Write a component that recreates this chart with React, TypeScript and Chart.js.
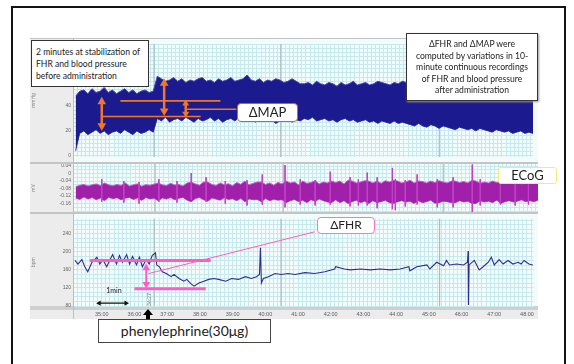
import React, { useEffect, useRef } from "react";
import { Chart, registerables } from "chart.js";

Chart.register(...registerables);

// ---------- time axis (minutes) ----------
const timeMin = 34.15;
const timeMax = 48.2;
const sampleStart = 34.2;
const sampleStep = 0.125;
const gridStep = 0.125;
const eventTimes = [36.6, 40.48, 45.33];

// ---------- MAP (blood pressure) envelope ----------
const mapUpper = [
  48, 52, 53, 50, 54, 51, 52, 55, 51, 53, 50, 52, 54, 51, 53, 50, 52, 53, 51, 52,
  64, 62, 60, 61, 63, 60, 62, 59, 61, 60, 62, 63, 60, 61, 59, 62, 60, 61, 63, 60,
  61, 62, 65, 61, 60, 62, 59, 61, 60, 62, 61, 59, 60, 62, 60, 58,
  58, 59, 57, 60, 58, 57, 59, 58, 56, 59, 57, 58, 60, 57, 58, 59, 57, 58, 60, 59,
  58, 57, 59, 58, 60,
  59, 58, 60, 58, 59, 57, 59, 58, 60, 58, 57, 59, 58, 60, 59, 57, 58, 59, 58, 60,
  58, 57, 59, 58, 59, 57, 58, 59, 58, 57, 58, 57,
];
const mapLower = [
  4, 18, 20, 17, 19, 21, 18, 20, 17, 19, 20, 18, 21, 19, 17, 20, 18, 19, 21, 19,
  30, 28, 31, 27, 29, 30, 28, 31, 29, 27, 30, 28, 29, 31, 28, 30, 27, 29, 30, 28,
  31, 29, 28, 30, 27, 29, 30, 28, 29, 26, 28, 30, 29, 27, 29, 28,
  30, 29, 31, 28, 29, 30, 28, 29, 27, 29, 30, 28, 29, 27, 28, 29, 27, 28, 26, 28,
  27, 26, 28, 26, 27,
  26, 25, 24, 26, 24, 23, 25, 24, 22, 24, 23, 22, 21, 23, 22, 21, 22, 20, 22, 21,
  20, 19, 21, 20, 19, 20, 18, 19, 20, 18, 19, 18,
];

// ---------- ECoG envelope ----------
const ecogUpper = [
  -0.07, -0.062, -0.058, -0.066, -0.06, -0.055, -0.064, -0.05, -0.06, -0.065,
  -0.058, -0.063, -0.05, -0.066, -0.06, -0.055, -0.067, -0.059, -0.062, -0.056,
  -0.05, -0.06, -0.064, -0.052, -0.061, -0.058, -0.066, -0.05, -0.045, -0.055,
  -0.062, -0.045, -0.045, -0.058, -0.063, -0.05, -0.06, -0.054, -0.065, -0.048,
  -0.057, -0.04, -0.06, -0.052, -0.045, -0.045, -0.058, -0.05, -0.062, -0.047,
  -0.055, -0.04, -0.05, -0.045, -0.06, -0.04, -0.052, -0.048, -0.038, -0.055,
  -0.045, -0.05, -0.04, -0.048, -0.04, -0.055, -0.035, -0.04, -0.05, -0.045,
  -0.038, -0.04, -0.05, -0.04, -0.052, -0.038, -0.045, -0.035, -0.04, -0.05,
  -0.045, -0.035, -0.05, -0.04, -0.042, -0.05, -0.04, -0.048, -0.038, -0.045,
  -0.05, -0.04, -0.04, -0.048, -0.042, -0.05, -0.035, -0.04, -0.052, -0.045,
  -0.05, -0.04, -0.048, -0.038, -0.052, -0.045, -0.05, -0.04, -0.055, -0.046,
  -0.05, -0.045, -0.052,
];
const ecogLower = [
  -0.13, -0.138, -0.125, -0.135, -0.128, -0.14, -0.13, -0.145, -0.126, -0.134,
  -0.129, -0.14, -0.132, -0.127, -0.138, -0.13, -0.143, -0.128, -0.135, -0.131,
  -0.145, -0.13, -0.136, -0.128, -0.14, -0.132, -0.127, -0.142, -0.15, -0.133,
  -0.128, -0.14, -0.148, -0.13, -0.136, -0.142, -0.129, -0.138, -0.134, -0.145,
  -0.132, -0.15, -0.135, -0.14, -0.138, -0.15, -0.133, -0.145, -0.137, -0.142,
  -0.14, -0.155, -0.145, -0.138, -0.15, -0.142, -0.155, -0.14, -0.148, -0.136,
  -0.145, -0.152, -0.155, -0.14, -0.155, -0.145, -0.16, -0.15, -0.142, -0.155,
  -0.148, -0.16, -0.145, -0.155, -0.15, -0.142, -0.155, -0.16, -0.15, -0.145,
  -0.152, -0.148, -0.16, -0.145, -0.155, -0.15, -0.142, -0.158, -0.155, -0.148,
  -0.15, -0.155, -0.155, -0.145, -0.152, -0.148, -0.16, -0.16, -0.145, -0.152,
  -0.148, -0.155, -0.142, -0.16, -0.15, -0.145, -0.152, -0.148, -0.14, -0.15,
  -0.145, -0.15, -0.142,
];
// ECoG transients (thin spikes)
const ecogSpikeTimes = [
  34.99, 35.66, 36.12, 36.72, 37.27, 37.7, 38.15, 38.73, 39.39, 39.85,
  40.54, 41.0, 41.45, 41.91, 42.51, 42.76, 43.03, 43.33, 43.79, 43.88,
  44.18, 44.54, 45.15, 45.63, 46.21, 46.45, 47.06, 47.51, 47.91,
];
const ecogSpikeTops = [
  -0.03, -0.04, -0.045, -0.03, -0.04, 0.003, -0.02, -0.04, -0.035, -0.005,
  0.045, -0.03, -0.035, 0.01, -0.02, -0.03, 0.005, -0.02, 0.03, -0.03,
  -0.035, -0.005, -0.03, -0.02, 0.048, -0.03, -0.025, -0.035, -0.03,
];
const ecogSpikeBottoms = [
  -0.15, -0.155, -0.16, -0.15, -0.155, -0.14, -0.15, -0.16, -0.17, -0.165,
  -0.18, -0.165, -0.17, -0.165, -0.175, -0.17, -0.17, -0.185, -0.19, -0.195,
  -0.175, -0.165, -0.18, -0.18, -0.205, -0.17, -0.165, -0.17, -0.165,
];

// ---------- FHR trace ----------
const fhrTimes = [
  34.18, 34.27, 34.39, 34.48, 34.57, 34.7, 34.85, 34.94, 35.03, 35.15,
  35.24, 35.33, 35.45, 35.54, 35.63, 35.76, 35.85, 35.94, 36.06, 36.15,
  36.24, 36.36, 36.45, 36.54, 36.64, 36.68, 36.76, 36.85, 36.97, 37.12,
  37.21, 37.36, 37.51, 37.6, 37.73, 37.82, 37.97, 38.12, 38.27, 38.42,
  38.57, 38.79, 38.97, 39.18, 39.39, 39.57, 39.73, 39.82, 39.85, 39.88,
  39.94, 40.09, 40.3, 40.48, 40.7, 40.91, 41.21, 41.51, 41.82, 42.12,
  42.15, 42.42, 42.6, 42.91, 43.21, 43.51, 43.82, 44.12, 44.39, 44.42,
  44.63, 44.94, 45.03, 45.24, 45.45, 45.54, 45.63, 45.85, 46.06, 46.18,
  46.2, 46.21, 46.23, 46.39, 46.54, 46.66, 46.82, 46.91, 47.0, 47.15,
  47.27, 47.42, 47.57, 47.73, 47.82, 47.91, 48.06, 48.18,
];
const fhrValues = [
  181, 173, 183, 167, 156, 177, 188, 173, 183, 167,
  181, 194, 173, 192, 177, 194, 173, 190, 171, 188,
  167, 183, 173, 192, 198, 171, 167, 156, 152, 145,
  150, 141, 135, 139, 129, 124, 131, 135, 139, 141,
  139, 135, 141, 139, 145, 141, 145, 150, 209, 131,
  141, 145, 152, 150, 152, 150, 154, 152, 156, 162,
  167, 162, 160, 162, 160, 162, 160, 162, 167, 158,
  167, 171, 162, 177, 169, 181, 171, 173, 171, 177,
  202, 82, 171, 181, 160, 167, 177, 188, 171, 183,
  173, 181, 173, 177, 173, 181, 173, 171,
];

// ---------- axis tick labels ----------
const mapTickValues = [0, 20, 40];
const ecogTickValues = [0.04, 0, -0.04, -0.08, -0.12, -0.16];
const fhrTickValues = [80, 120, 160, 200, 240];

// ---------- annotation marks (data coordinates) ----------
const mapArrowTimes = [35.0, 36.91, 37.57];
const mapArrowTops = [43.4, 58.3, 42.0];
const mapArrowBottoms = [24.2, 36.0, 33.8];
const mapLevelStarts = [35.03, 35.57, 37.57];
const mapLevelEnds = [38.03, 38.63, 39.12];
const mapLevelValues = [31.6, 44.2, 37.5];

const fhrLevelStarts = [34.63, 36.0];
const fhrLevelEnds = [38.33, 38.18];
const fhrLevelValues = [181, 118];
const fhrArrowTime = 36.36;
const fhrArrowTop = 164;
const fhrArrowBottom = 128.5;
const fhrPointerTimes = [36.42, 41.51];
const fhrPointerValues = [151.7, 244.5];
const oneMinTimes = [34.92, 35.74];
const oneMinValue = 86.3;

const GRID = "#c6e9ee";
const ORANGE = "#f0762a";
const PINK = "#ff5cc6";
const X_TICK_FONT = { size: 5.5, family: "Liberation Sans" };
const Y_TICK_FONT = { size: 5, family: "Liberation Sans" };

const pts = (ts: number[], vs: number[]) => ts.map((t, i) => ({ x: t, y: vs[i] }));
const sampled = (vs: number[]) => vs.map((v, i) => ({ x: sampleStart + i * sampleStep, y: v }));
const segments = (ts: number[], tops: number[], bottoms: number[]) =>
  ts.flatMap((t, i) => [
    { x: t, y: tops[i] },
    { x: t, y: bottoms[i] },
    { x: t, y: null },
  ]);

function line(data: any[], color: string, width: number, extra: any = {}) {
  return {
    type: "line",
    data,
    xAxisID: "x",
    yAxisID: "y",
    borderColor: color,
    backgroundColor: color,
    borderWidth: width,
    pointRadius: 0,
    fill: false,
    tension: 0,
    spanGaps: false,
    order: 0,
    ...extra,
  };
}

function arrow(t: number, top: number, bottom: number, color: string, width: number, r: number) {
  return line([{ x: t, y: top }, { x: t, y: bottom }], color, width, {
    pointRadius: r,
    pointStyle: "triangle",
    pointRotation: [0, 180],
    pointBorderWidth: 0,
    pointBackgroundColor: color,
  });
}

function eventLines(yMin: number, yMax: number) {
  return eventTimes.map((t) => line([{ x: t, y: yMin }, { x: t, y: yMax }], "#a3b1b5", 1, { order: 20 }));
}

const near = (list: number[], v: number) => list.some((t) => Math.abs(t - v) < 1e-6);

function makeConfig(datasets: any[], y: { min: number; max: number; step: number; ticks: number[]; fmt: (v: number) => string; title: string }, showX: boolean) {
  return {
    type: "line",
    data: { datasets },
    options: {
      animation: false,
      responsive: false,
      events: [],
      layout: { padding: 0 },
      plugins: { legend: { display: false }, tooltip: { enabled: false } },
      scales: {
        x: {
          type: "linear",
          position: "bottom",
          min: timeMin,
          max: timeMax,
          display: showX,
          grid: { display: false, drawTicks: false },
          border: { display: false },
          ticks: {
            stepSize: 1,
            includeBounds: false,
            autoSkip: false,
            maxRotation: 0,
            padding: 5,
            color: "#5a5a5a",
            font: X_TICK_FONT,
            callback: (v: number) => (Math.abs(v - Math.round(v)) < 1e-6 ? `${Math.round(v)}:00` : ""),
          },
          afterFit: (s: any) => {
            s.height = showX ? 14 : 0;
            s.paddingLeft = 0;
            s.paddingRight = 0;
          },
        },
        xg: {
          type: "linear",
          position: "bottom",
          min: timeMin,
          max: timeMax,
          display: true,
          ticks: { display: false, stepSize: gridStep, includeBounds: false },
          grid: { color: GRID, drawTicks: false, lineWidth: 1 },
          border: { display: false },
          afterFit: (s: any) => {
            s.height = 0;
            s.paddingLeft = 0;
            s.paddingRight = 0;
          },
        },
        y: {
          type: "linear",
          position: "left",
          min: y.min,
          max: y.max,
          grid: { color: GRID, drawTicks: false, lineWidth: 1 },
          border: { display: false },
          title: { display: true, text: y.title, color: "#8a8a8a", font: { size: 5, family: "Liberation Sans" }, padding: 1 },
          ticks: {
            stepSize: y.step,
            includeBounds: false,
            autoSkip: false,
            padding: 3,
            color: "#666",
            font: Y_TICK_FONT,
            callback: (v: number) => (near(y.ticks, v) ? y.fmt(v) : ""),
          },
          afterFit: (s: any) => {
            s.width = 44;
            s.paddingTop = 0;
            s.paddingBottom = 0;
          },
        },
      },
    },
  };
}

function mapConfig() {
  const ds: any[] = [];
  mapArrowTimes.forEach((t, i) => ds.push(arrow(t, mapArrowTops[i], mapArrowBottoms[i], ORANGE, 2.5, i === 2 ? 4 : 5)));
  mapLevelValues.forEach((v, i) => ds.push(line(pts([mapLevelStarts[i], mapLevelEnds[i]], [v, v]), ORANGE, 1.6)));
  ds.push(...eventLines(-1, 90));
  ds.push(line(sampled(mapUpper), "#4444b8", 1, { fill: "+1", backgroundColor: "#1b1b8f", order: 10 }));
  ds.push(line(sampled(mapLower), "#4444b8", 1, { order: 10 }));
  return makeConfig(ds, { min: -1, max: 90, step: 10 / 3, ticks: mapTickValues, fmt: (v) => `${Math.round(v)}`, title: "mmHg" }, false);
}

function ecogConfig() {
  const ds: any[] = [];
  ds.push(line(segments(ecogSpikeTimes, ecogSpikeTops, ecogSpikeBottoms), "#c140c8", 1, { order: 5 }));
  ds.push(...eventLines(-0.205, 0.051));
  ds.push(line(sampled(ecogUpper), "#d05ad4", 1, { fill: "+1", backgroundColor: "#a020aa", order: 10 }));
  ds.push(line(sampled(ecogLower), "#d05ad4", 1, { order: 10 }));
  return makeConfig(
    ds,
    { min: -0.205, max: 0.051, step: 0.02, ticks: ecogTickValues, fmt: (v) => (Math.abs(v) < 1e-9 ? "0" : v.toFixed(2)), title: "mV" },
    false
  );
}

function fhrConfig() {
  const ds: any[] = [];
  fhrLevelValues.forEach((v, i) => ds.push(line(pts([fhrLevelStarts[i], fhrLevelEnds[i]], [v, v]), PINK, 3)));
  ds.push(arrow(fhrArrowTime, fhrArrowTop, fhrArrowBottom, PINK, 2, 4.5));
  ds.push(line(pts(fhrPointerTimes, fhrPointerValues), PINK, 1));
  ds.push(
    line(pts(oneMinTimes, [oneMinValue, oneMinValue]), "#111", 1.2, {
      pointRadius: 3,
      pointStyle: "triangle",
      pointRotation: [270, 90],
      pointBorderWidth: 0,
      pointBackgroundColor: "#111",
    })
  );
  ds.push(...eventLines(80, 274));
  ds.push(line(pts(fhrTimes, fhrValues), "#2e2e8e", 1.1, { order: 10 }));
  return makeConfig(ds, { min: 80, max: 274, step: 10, ticks: fhrTickValues, fmt: (v) => `${Math.round(v)}`, title: "bpm" }, true);
}

function ChartCanvas({ make, left, top, width, height }: { make: () => any; left: number; top: number; width: number; height: number }) {
  const ref = useRef<HTMLCanvasElement>(null);
  useEffect(() => {
    const chart = new Chart(ref.current as HTMLCanvasElement, make());
    return () => chart.destroy();
  }, []);
  return <canvas ref={ref} width={width} height={height} style={{ position: "absolute", left, top, width, height }} />;
}

const abs = (s: React.CSSProperties): React.CSSProperties => ({ position: "absolute", boxSizing: "border-box", ...s });
const TEXT_FONT = 'Lato, "Noto Sans", "DejaVu Sans", sans-serif';

export default function App() {
  return (
    <div style={{ position: "fixed", left: 0, top: 0, width: 574, height: 364, background: "#fff", overflow: "hidden", fontFamily: TEXT_FONT, color: "#222" }}>
      {/* outer frame */}
      <div style={abs({ left: 11, top: 6, width: 555, height: 420, border: "2px solid #141414" })} />

      {/* recorder chrome */}
      <div style={abs({ left: 30, top: 38, width: 508, height: 281, background: "#ececec" })} />
      <div style={abs({ left: 74, top: 39, width: 464, height: 123, background: "#f2fcfd" })} />
      <div style={abs({ left: 74, top: 164, width: 464, height: 48, background: "#f2fcfd" })} />
      <div style={abs({ left: 74, top: 214, width: 464, height: 92, background: "#f2fcfd" })} />
      <div style={abs({ left: 30, top: 38, width: 508, height: 1, background: "#c4c4c4" })} />
      <div style={abs({ left: 30, top: 162, width: 508, height: 2, background: "#c4c4c4" })} />
      <div style={abs({ left: 30, top: 212, width: 508, height: 2, background: "#c4c4c4" })} />
      <div style={abs({ left: 30, top: 306, width: 508, height: 4, background: "#cfcfcf" })} />
      <div style={abs({ left: 73, top: 38, width: 1, height: 281, background: "#bdbdbd" })} />

      <ChartCanvas make={mapConfig} left={30} top={39} width={508} height={123} />
      <ChartCanvas make={ecogConfig} left={30} top={164} width={508} height={48} />
      <ChartCanvas make={fhrConfig} left={30} top={214} width={508} height={106} />

      {/* text boxes */}
      <div style={abs({ left: 31, top: 40, width: 118, height: 47, border: "1px solid #333", background: "#fff", padding: "5px 4px", fontSize: 8.6, lineHeight: "12px", whiteSpace: "nowrap" })}>
        2 minutes at stabilization of
        <br />
        FHR and blood pressure
        <br />
        before administration
      </div>
      <div style={abs({ left: 406, top: 33, width: 132, height: 68, border: "1px solid #333", background: "#fff", boxShadow: "1px 1px 2px #999", padding: "5px 1px", fontSize: 8.6, lineHeight: "11.6px", textAlign: "center", whiteSpace: "nowrap" })}>
        ΔFHR and ΔMAP were
        <br />
        computed by variations in 10-
        <br />
        minute continuous recordings
        <br />
        of FHR and blood pressure
        <br />
        after administration
      </div>
      <div style={abs({ left: 237, top: 103, width: 61, height: 19, border: "1.5px solid #d0622e", borderRadius: 4, background: "#fff", fontSize: 13, lineHeight: "16px", textAlign: "center" })}>ΔMAP</div>
      <div style={abs({ left: 498, top: 167, width: 59, height: 17, border: "1.5px solid #eded7a", borderRadius: 3, background: "#fff", fontSize: 13, lineHeight: "14px", textAlign: "center" })}>ECoG</div>
      <div style={abs({ left: 317, top: 217, width: 58, height: 17, border: "1.5px solid #f07ac0", borderRadius: 4, background: "#fff", fontSize: 12, lineHeight: "14px", textAlign: "center" })}>ΔFHR</div>

      <div style={abs({ left: 103, top: 286, width: 22, fontSize: 7, lineHeight: "9px", textAlign: "center" })}>1min</div>
      <div style={abs({ left: 146, top: 292, fontSize: 5, color: "#777", transform: "rotate(-90deg)", transformOrigin: "left top", whiteSpace: "nowrap" })}>
        <span style={{ position: "relative", left: -14 }}>36:27</span>
      </div>

      {/* phenylephrine marker */}
      <div style={abs({ left: 143, top: 309, width: 0, height: 0, borderLeft: "5px solid transparent", borderRight: "5px solid transparent", borderBottom: "6px solid #000" })} />
      <div style={abs({ left: 146, top: 314, width: 4, height: 6, background: "#000" })} />
      <div style={abs({ left: 98, top: 319, width: 173, height: 24, border: "1px solid #444", background: "#fff", fontSize: 14, lineHeight: "22px", textAlign: "center" })}>
        phenylephrine(30μg)
      </div>
    </div>
  );
}
